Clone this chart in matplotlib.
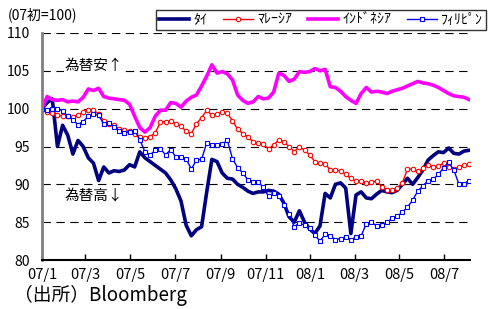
import numpy as np
import pandas as pd
import matplotlib
matplotlib.use("Agg")
import matplotlib.pyplot as plt

plt.rcParams['font.family'] = ['Noto Sans CJK JP', 'DejaVu Sans']
plt.rcParams['lines.scale_dashes'] = False

# weekly index, start of 2007 = 100
dates = pd.date_range('2007-01-01', periods=84, freq='7D')

thai = [100.0, 100.8, 101.3, 95.0, 97.8, 96.5, 94.0, 95.8, 95.0, 93.5,
        92.8, 90.5, 92.3, 91.5, 91.8, 91.7, 91.9, 92.6, 92.3, 94.3,
        93.5, 93.0, 92.5, 92.0, 91.5, 90.6, 89.4, 87.8, 84.6, 83.2,
        84.0, 84.4, 89.0, 93.3, 93.0, 91.5, 90.8, 90.7, 90.0, 89.6,
        89.1, 88.8, 89.0, 89.0, 89.2, 89.1, 88.7, 87.5, 85.7, 85.0,
        86.5, 85.0, 84.1, 83.5, 84.5, 88.8, 88.2, 90.0, 90.2, 89.5,
        83.5, 88.6, 89.0, 88.2, 88.1, 88.7, 89.2, 89.0, 88.9, 89.2,
        90.0, 90.8, 90.0, 90.9, 91.9, 93.2, 93.8, 94.3, 94.2, 94.8,
        94.1, 94.0, 94.4, 94.5]

malaysia = [100.0, 99.6, 99.4, 99.2, 99.0, 99.0, 98.9, 99.2, 99.5, 99.8,
            99.8, 99.3, 98.4, 98.0, 97.8, 97.3, 97.2, 97.0, 96.7, 96.3,
            96.1, 96.3, 96.8, 98.2, 98.3, 98.4, 98.0, 97.7, 97.0, 96.7,
            98.0, 98.8, 99.8, 99.1, 99.3, 99.5, 99.4, 98.4, 97.3, 96.7,
            96.3, 95.6, 95.5, 95.3, 94.7, 95.2, 95.9, 95.6, 95.0, 94.3,
            95.0, 94.5, 93.9, 93.0, 92.8, 92.7, 91.9, 91.9, 91.8, 91.3,
            90.8, 90.4, 90.5, 90.2, 90.3, 90.4, 89.7, 89.3, 89.3, 89.5,
            90.2, 92.0, 92.0, 91.7, 92.1, 92.6, 92.3, 92.4, 92.8, 92.3,
            92.0, 92.3, 92.5, 92.7]

indonesia = [100.0, 101.6, 101.2, 101.1, 101.2, 100.9, 101.0, 100.9, 101.5, 102.6,
             102.4, 102.7, 101.6, 101.4, 101.3, 101.2, 101.1, 100.6, 99.0, 97.5,
             96.9, 97.5, 99.0, 99.8, 99.8, 100.8, 100.7, 100.2, 101.0, 101.5,
             101.8, 103.0, 104.3, 105.8, 104.7, 104.9, 104.6, 103.8, 101.8, 101.1,
             100.7, 100.9, 101.6, 101.3, 101.4, 102.2, 104.7, 104.4, 103.6, 103.9,
             104.9, 104.8, 104.9, 105.3, 105.0, 105.2, 102.9, 102.8, 102.3, 101.6,
             101.1, 100.7, 102.0, 102.8, 102.2, 102.3, 102.2, 102.0, 102.3, 102.5,
             102.7, 103.0, 103.3, 103.6, 103.4, 103.3, 103.1, 102.8, 102.4, 102.0,
             101.7, 101.6, 101.5, 101.2]

philippines = [100.0, 99.8, 100.0, 100.0, 99.7, 99.0, 98.5, 97.9, 98.3, 99.0,
               99.3, 99.1, 98.0, 98.1, 97.6, 97.1, 96.8, 96.9, 97.1, 95.9,
               94.3, 93.9, 94.5, 94.7, 93.9, 94.6, 93.6, 93.6, 93.4, 92.0,
               93.2, 93.3, 95.5, 95.2, 95.2, 95.3, 95.8, 93.4, 92.2, 91.5,
               90.6, 90.3, 90.3, 89.6, 88.4, 88.9, 88.5, 87.3, 86.1, 84.4,
               84.9, 84.6, 84.2, 83.3, 82.5, 83.4, 83.2, 82.7, 82.8, 83.1,
               82.7, 83.0, 83.2, 84.8, 85.0, 84.5, 84.6, 85.0, 85.5, 85.8,
               86.3, 87.0, 87.9, 89.1, 89.8, 90.5, 90.7, 91.3, 92.2, 92.9,
               91.9, 90.0, 90.1, 90.5]

labels = ['ﾀｲ', 'ﾏﾚｰｼｱ', 'ｲﾝﾄﾞﾈｼｱ', 'ﾌｨﾘﾋﾟﾝ']
tick_dates = pd.date_range('2007-01-01', '2008-07-01', freq='2MS')
tick_labels = ['07/1', '07/3', '07/5', '07/7', '07/9', '07/11',
               '08/1', '08/3', '08/5', '08/7']

fig = plt.figure(figsize=(4.88, 3.09), dpi=100)
ax = fig.add_axes([42 / 488, 49 / 309, 428 / 488, 227 / 309])

ax.plot(dates, thai, color='#000080', lw=2.6, label=labels[0])
ax.plot(dates, malaysia, color='#ff0000', lw=1.0, marker='o', ms=3.2,
        mfc='white', mew=0.8, label=labels[1])
ax.plot(dates, indonesia, color='#ff00ff', lw=2.6, label=labels[2])
ax.plot(dates, philippines, color='#0000ff', lw=1.0, marker='s', ms=3.2,
        mfc='white', mew=0.8, label=labels[3])

ax.set_ylim(80, 110)
ax.set_yticks(np.arange(80, 111, 5))
ax.set_xlim(pd.Timestamp('2007-01-01'), pd.Timestamp('2008-08-05'))
ax.set_xticks(tick_dates)
ax.set_xticklabels(tick_labels)

ax.yaxis.grid(True, color='black', lw=0.8, linestyle=(0, (6, 4)))
ax.set_axisbelow(True)
ax.spines['top'].set_visible(False)
ax.spines['right'].set_visible(False)
ax.spines['left'].set_color('#808080')
ax.spines['left'].set_linewidth(2)
ax.spines['bottom'].set_linewidth(1.5)
ax.tick_params(axis='y', length=0, pad=9, labelsize=10)
ax.tick_params(axis='x', direction='in', length=4, width=1, pad=6, labelsize=10.5)

box = dict(facecolor='white', edgecolor='none', pad=0.5)
ax.text(pd.Timestamp('2007-02-01'), 105.6, '為替安↑', fontsize=10.5,
        va='center', bbox=box, zorder=1)
ax.text(pd.Timestamp('2007-02-01'), 88.4, '為替高↓', fontsize=10.5,
        va='center', bbox=box, zorder=1)

fig.text(8 / 488, 1 - 15 / 309, '(07初=100)', fontsize=10, va='center')
fig.text(14 / 488, 1 - 295 / 309, '（出所）Bloomberg', fontsize=13.5, va='center')

leg = fig.legend(loc='upper right', bbox_to_anchor=(486 / 488, 1 - 10 / 309),
                 ncol=4, fontsize=10, frameon=True, fancybox=False,
                 edgecolor='#333333', handlelength=2.2, columnspacing=1.1,
                 handletextpad=0.3, borderpad=0.2, borderaxespad=0,
                 framealpha=1)
leg.get_frame().set_linewidth(1.0)

fig.savefig('out.png', dpi=100)
